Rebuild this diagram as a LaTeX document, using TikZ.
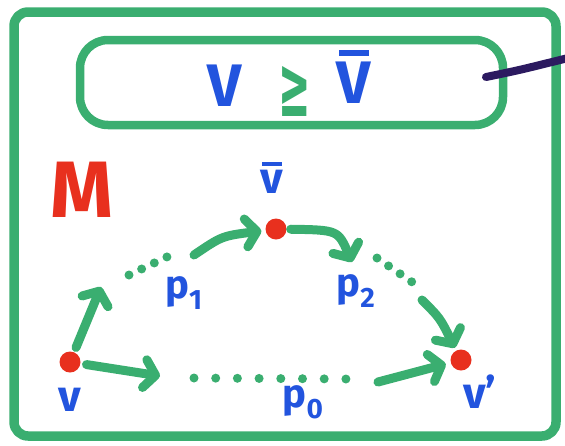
\documentclass[tikz,border=0pt]{standalone}
\usepackage{fontspec}
\setsansfont{Fira Sans}
\newfontfamily\symfont{DejaVu Sans}
\usetikzlibrary{arrows.meta}
\definecolor{mgreen}{RGB}{58,174,112}
\definecolor{mblue}{RGB}{34,84,222}
\definecolor{mred}{RGB}{232,48,30}
\definecolor{mpurple}{RGB}{44,26,96}
\newcommand{\withbar}[3]{\ooalign{#1\cr\hidewidth\raisebox{#2}{\rule{#3}{0.1em}}\hidewidth\cr}}
\begin{document}
\begin{tikzpicture}[x=1pt,y=-1pt,line cap=round,line join=round]
\useasboundingbox (0,0) rectangle (565,445);
\tikzset{
  frame/.style={draw=mgreen,line width=9.5pt,rounded corners=14pt},
  vert/.style={circle,fill=mred,minimum size=21pt,inner sep=0pt},
  lbl/.style={text=mblue,font=\sffamily\bfseries\fontsize{44}{44}\selectfont,inner sep=0pt},
  plbl/.style={text=mblue,font=\sffamily\bfseries\fontsize{40}{40}\selectfont,inner sep=0pt},
  garrow/.style={draw=mgreen,line width=9pt,-{Straight Barb[length=11pt,width=28pt,round]}},
  gdots/.style={draw=mgreen,line width=9pt,dash pattern=on 0pt off #1},
  gdots/.default=14pt
}
% frames
\draw[frame] (14,12) rectangle (556,436);
\draw[frame,rounded corners=28pt,line width=8.5pt] (80,40) rectangle (503,125);
\draw[draw=mpurple,line width=8pt] (486,77) .. controls (520,70) .. (568,58);
% title
\node[text=mblue,font=\sffamily\bfseries\fontsize{60}{60}\selectfont,inner sep=0pt] (V) at (225,86) {V};
\node[text=mgreen,font=\symfont\bfseries\fontsize{86}{86}\selectfont,inner sep=0pt,xscale=0.45] (ge) at (295,91) {≥};
\node[text=mblue,font=\sffamily\bfseries\fontsize{60}{60}\selectfont,inner sep=0pt] (Vbar) at (354,83) {\withbar{V}{0.8em}{0.5em}};
\node[text=mred,font=\sffamily\bfseries\fontsize{80}{80}\selectfont,inner sep=0pt] (M) at (82,190) {M};
% vertices
\node[vert] (v) at (70,362) {};
\node[vert] (vbar) at (276,229) {};
\node[vert] (vp) at (461,360) {};
% labels
\node[lbl] (lv) at (70,400) {v};
\node[lbl] (lvbar) at (272,182) {\withbar{v}{0.62em}{0.45em}};
\node[lbl] (lvp) at (480,392) {v'};
\node[plbl] (lp1) at (184,293) {p\textsubscript{1}};
\node[plbl] (lp2) at (356,291) {p\textsubscript{2}};
\node[plbl] (lp0) at (303,402) {p\textsubscript{0}};
% path p1
\coordinate (a1) at (101,287);
\draw[garrow,shorten <=5pt] (v) -- (a1);
\coordinate (d1s) at (129,275);
\coordinate (d1e) at (171,255);
\draw[gdots] (d1s) -- (d1e);
\coordinate (c1) at (194,255);
\draw[garrow,shorten >=4pt] (c1) .. controls (222,236) .. (vbar);
% path p2
\coordinate (c2) at (352,262);
\draw[garrow,shorten <=4pt] (vbar) .. controls (338,230) .. (c2);
\coordinate (d2s) at (377,258);
\coordinate (d2e) at (412,282);
\draw[gdots=14pt] (d2s) -- (d2e);
\coordinate (c3) at (422,300);
\draw[garrow,shorten >=3pt] (c3) .. controls (440,318) .. (vp);
% path p0
\coordinate (b1) at (160,376);
\draw[garrow,shorten <=6pt] (v) -- (b1);
\coordinate (d0s) at (194,378);
\coordinate (d0e) at (346,379);
\draw[gdots=21.7pt] (d0s) -- (d0e);
\coordinate (b2) at (378,382);
\draw[garrow,shorten >=5pt] (b2) -- (vp);
\end{tikzpicture}
\end{document}
